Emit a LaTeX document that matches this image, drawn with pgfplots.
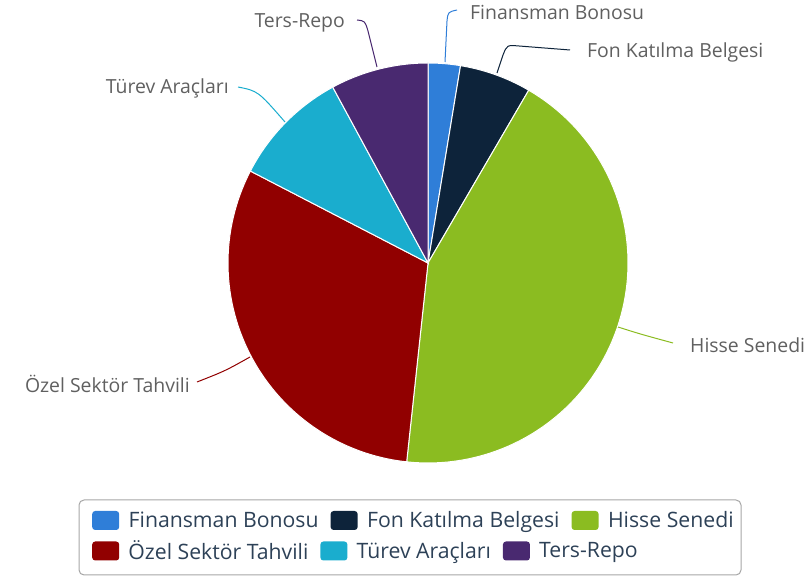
\documentclass[border=0pt]{standalone}
\usepackage{pgfplots}
\pgfplotsset{compat=1.18}
\usepackage{fontspec}
\setmainfont{Open Sans}

\definecolor{cFB}{HTML}{2F7ED8}
\definecolor{cFK}{HTML}{0D233A}
\definecolor{cHS}{HTML}{8BBC21}
\definecolor{cOS}{HTML}{910000}
\definecolor{cTA}{HTML}{1AADCE}
\definecolor{cTR}{HTML}{492970}
\definecolor{lbl}{HTML}{606060}
\definecolor{leg}{HTML}{2D4157}

% shares in percent
\def\vFB{2.6}
\def\vFK{5.8}
\def\vHS{43.3}
\def\vOS{30.9}
\def\vTA{9.5}
\def\vTR{7.9}
\pgfmathsetmacro{\aA}{0}
\pgfmathsetmacro{\aB}{\aA+3.6*\vFB}
\pgfmathsetmacro{\aC}{\aB+3.6*\vFK}
\pgfmathsetmacro{\aD}{\aC+3.6*\vHS}
\pgfmathsetmacro{\aE}{\aD+3.6*\vOS}
\pgfmathsetmacro{\aF}{\aE+3.6*\vTA}
\pgfmathsetmacro{\aG}{\aF+3.6*\vTR}

\newcommand{\lblfont}{\fontsize{19.5}{22}\selectfont}
\newcommand{\slice}[3]{%
  \addplot[fill=#1, draw=white, line width=1bp, domain=#2:#3, samples=80]
    ({428+200*sin(x)},{313+200*cos(x)}) -- (axis cs:428,313) -- cycle;}

\pgfplotsset{
  canvas/.style={x=1bp, y=1bp, xmin=0, xmax=807, ymin=0, ymax=576,
    hide axis, clip=false, anchor=origin, at={(0,0)},
    legend image code/.code={\fill[##1, draw=none, rounded corners=3bp]
      (0bp,-9.5bp) rectangle (27bp,9.5bp); \path (36bp,0bp);},
    legend cell align=left,
    legend style={draw=none, fill=none, inner sep=0pt, anchor=west,
      font=\fontsize{21.3}{25}\selectfont, text=leg,
      nodes={inner sep=0pt},
      /tikz/every even column/.append style={column sep=12bp}},
    legend columns=-1}
}

\begin{document}
\begin{tikzpicture}
\begin{axis}[canvas, legend style={at={(axis cs:92,55.5)}}]
\path (axis cs:0,0) rectangle (axis cs:807,576);
\slice{cFB}{\aA}{\aB}
\addlegendentry{Finansman Bonosu}
\slice{cFK}{\aB}{\aC}
\addlegendentry{Fon Katılma Belgesi}
\slice{cHS}{\aC}{\aD}
\addlegendentry{Hisse Senedi}
\slice{cOS}{\aD}{\aE}
\slice{cTA}{\aE}{\aF}
\slice{cTR}{\aF}{\aG}

% connectors
\draw[cFB, line width=1bp] (axis cs:445,514) -- (axis cs:447,555) .. controls (axis cs:448,564) .. (axis cs:457,566);
\draw[cFK, line width=1bp] (axis cs:497,503) -- (axis cs:503,521) .. controls (axis cs:507,531) .. (axis cs:519,530) -- (axis cs:570,526);
\draw[cHS, line width=1bp] (axis cs:618,249) .. controls (axis cs:640,242) .. (axis cs:673,233);
\draw[cOS, line width=1bp] (axis cs:250,219) .. controls (axis cs:225,205) .. (axis cs:197,194);
\draw[cTA, line width=1bp] (axis cs:285,454) .. controls (axis cs:258,485) .. (axis cs:238,489);
\draw[cTR, line width=1bp] (axis cs:377,509) -- (axis cs:368,545) .. controls (axis cs:365,555) .. (axis cs:357,556);

% labels
\node[anchor=base west, inner sep=0pt, text=lbl, font=\lblfont] at (axis cs:470,556) {Finansman Bonosu};
\node[anchor=base west, inner sep=0pt, text=lbl, font=\lblfont] at (axis cs:587,518.5) {Fon Katılma Belgesi};
\node[anchor=base west, inner sep=0pt, text=lbl, font=\lblfont] at (axis cs:690,223) {Hisse Senedi};
\node[anchor=base east, inner sep=0pt, text=lbl, font=\lblfont] at (axis cs:190,183) {Özel Sektör Tahvili};
\node[anchor=base east, inner sep=0pt, text=lbl, font=\lblfont] at (axis cs:229,482) {Türev Araçları};
\node[anchor=base east, inner sep=0pt, text=lbl, font=\lblfont] at (axis cs:345,548.5) {Ters-Repo};

% legend frame
\draw[color=black!35, line width=1bp, rounded corners=5bp] (axis cs:79,1) rectangle (axis cs:741,76);
\end{axis}

\begin{axis}[canvas, legend style={at={(axis cs:92,25)}}]
\addlegendimage{fill=cOS}
\addlegendentry{Özel Sektör Tahvili}
\addlegendimage{fill=cTA}
\addlegendentry{Türev Araçları}
\addlegendimage{fill=cTR}
\addlegendentry{Ters-Repo}
\end{axis}
\end{tikzpicture}
\end{document}
